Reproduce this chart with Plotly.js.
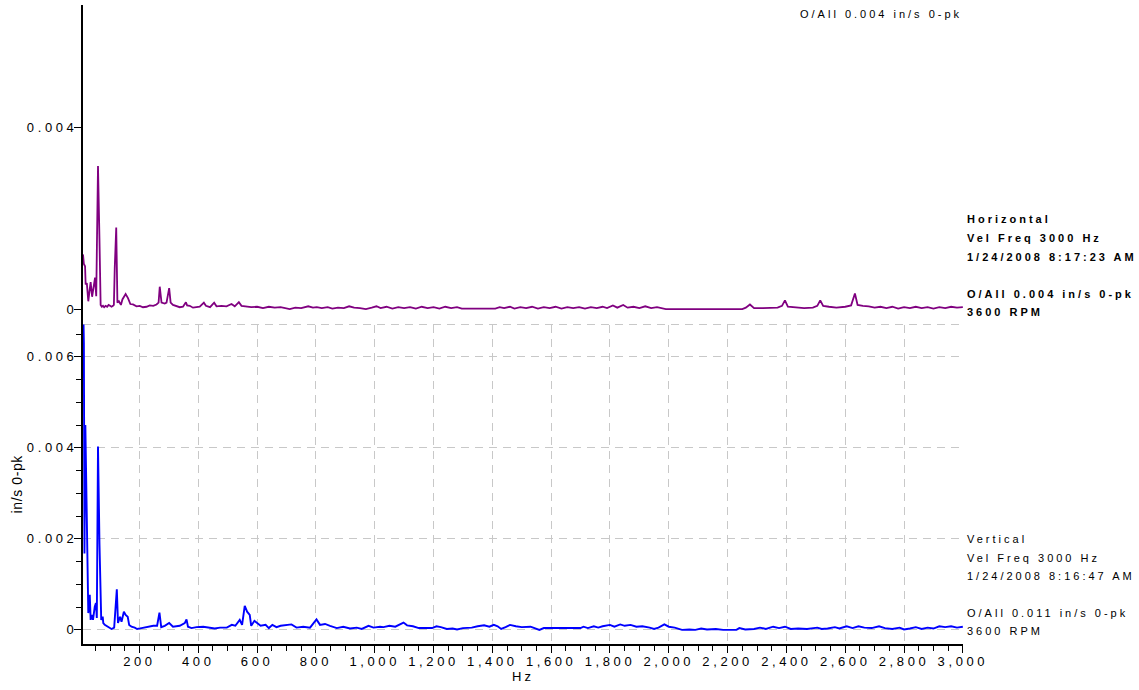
<!DOCTYPE html>
<html>
<head>
<meta charset="utf-8">
<script src="https://cdn.plot.ly/plotly-3.0.1.min.js"></script>
<style>
  html, body { margin: 0; padding: 0; background: #fff; }
  #chart { width: 1139px; height: 690px; }
  .xtick text, .ytick text, .y2tick text { letter-spacing: 3.6px; }
  .g-xtitle text { letter-spacing: 3px; }
  .g-ytitle text { letter-spacing: 0.6px; }
  .annotation-text { letter-spacing: 3px; }
</style>
</head>
<body>
<div id="chart"></div>
<script>
// ---- Horizontal (top panel) spectrum: frequency (Hz) and amplitude (in/s 0-pk)
const horizFreq = [8, 11, 15, 17, 21, 26, 30, 34, 39, 44, 49, 53, 59, 64, 68,
  72, 76, 80, 85, 90, 95, 100, 105, 110, 113, 116, 121, 125, 130, 137, 142, 153, 161, 169, 178, 190,
  201, 212, 224, 235, 247, 258, 265, 269, 275, 286, 292, 301, 306, 314, 326, 337, 348, 358, 362, 371,
  382, 394, 405, 419, 426, 440, 454, 462, 479, 496, 513, 524, 538, 547, 564, 580, 600, 620, 640, 660,
  680, 700, 711, 730, 750, 774, 790, 803, 820, 840, 856, 875, 895, 913, 930, 950, 970, 990, 1006,
  1020, 1040, 1060, 1080, 1100, 1120, 1140, 1160, 1180, 1200, 1220, 1240, 1260, 1280, 1296, 1410,
  1425, 1440, 1460, 1475, 1495, 1515, 1535, 1555, 1575, 1595, 1615, 1635, 1655, 1675, 1695, 1715,
  1735, 1755, 1775, 1790, 1810, 1825, 1845, 1860, 1880, 1900, 1920, 1940, 1960, 1990, 2250, 2262,
  2276, 2290, 2320, 2345, 2370, 2385, 2395, 2405, 2430, 2460, 2490, 2505, 2515, 2525, 2545, 2570,
  2600, 2620, 2633, 2642, 2660, 2680, 2700, 2720, 2740, 2760, 2780, 2800, 2820, 2840, 2860, 2880,
  2900, 2920, 2940, 2960, 2980, 3000];
const horizAmp = [0.00121, 0.00100, 0.00095, 0.00055, 0.00058, 0.00018, 0.00040, 0.00060, 0.00028, 0.00045, 0.00070, 0.00029, 0.00315, 0.00154, 0.00010,
  0.00006, 0.00008, 0.00005, 0.00008, 0.00006, 0.00010, 0.00008, 0.00006, 0.00008, 0.00010, 0.00092, 0.00180, 0.00015, 0.00018, 0.00010, 0.00022, 0.00034, 0.00025, 0.00012, 0.00011, 0.00007,
  0.00008, 0.00005, 0.00006, 0.00009, 0.00008, 0.00011, 0.00015, 0.00050, 0.00015, 0.00013, 0.00015, 0.00047, 0.00015, 0.00010, 0.00008, 0.00005, 0.00006, 0.00016, 0.00009, 0.00008,
  0.00004, 0.00005, 0.00006, 0.00015, 0.00008, 0.00005, 0.00015, 0.00007, 0.00008, 0.00007, 0.00012, 0.00007, 0.00016, 0.00008, 0.00006, 0.00005, 0.00006, 0.00003, 0.00006, 0.00004,
  0.00005, 0.00003, 0.00001, 0.00004, 0.00003, 0.00007, 0.00004, 0.00005, 0.00003, 0.00005, 0.00002, 0.00004, 0.00003, 0.00007, 0.00004, 0.00003, 0.00001, 0.00004, 0.00007,
  0.00003, 0.00006, 0.00002, 0.00005, 0.00003, 0.00005, 0.00002, 0.00006, 0.00003, 0.00005, 0.00002, 0.00006, 0.00003, 0.00005, 0.00002, 0.00002,
  0.00005, 0.00003, 0.00006, 0.00002, 0.00005, 0.00003, 0.00006, 0.00002, 0.00005, 0.00003, 0.00006, 0.00002, 0.00005, 0.00003, 0.00005, 0.00002,
  0.00005, 0.00003, 0.00006, 0.00003, 0.00009, 0.00004, 0.00010, 0.00004, 0.00006, 0.00003, 0.00007, 0.00003, 0.00005, 0.00001, 0.00001, 0.00004,
  0.00011, 0.00003, 0.00003, 0.00004, 0.00004, 0.00008, 0.00020, 0.00006, 0.00004, 0.00003, 0.00004, 0.00008, 0.00020, 0.00008, 0.00006, 0.00004,
  0.00006, 0.00009, 0.00035, 0.00010, 0.00008, 0.00007, 0.00004, 0.00006, 0.00003, 0.00006, 0.00002, 0.00005, 0.00003, 0.00006, 0.00003, 0.00005,
  0.00002, 0.00005, 0.00003, 0.00006, 0.00004, 0.00005];

// ---- Vertical (bottom panel) spectrum
const vertFreq = [8, 11, 13, 16, 20, 26, 31, 34, 38, 42, 48, 52, 55, 59, 64, 70, 75, 77, 82, 94, 105, 114,
  119, 123, 127, 134, 139, 147, 153, 160, 165, 173, 184, 192, 207, 226, 247, 260, 268, 274, 286, 301, 314,
  337, 354, 360, 365, 377, 394, 417, 439, 456, 474, 497, 514, 526, 541, 549, 558, 566, 575, 580, 591, 600,
  612, 629, 640, 652, 666, 680, 717, 734, 757, 780, 802, 814, 831, 848, 871, 893, 916, 939, 956, 979, 996,
  1018, 1030, 1050, 1070, 1098, 1110, 1130, 1150, 1195, 1210, 1225, 1245, 1265, 1280, 1300, 1330, 1350,
  1372, 1390, 1405, 1418, 1430, 1445, 1460, 1480, 1500, 1530, 1545, 1560, 1575, 1650, 1700, 1710, 1725,
  1745, 1760, 1775, 1800, 1815, 1835, 1850, 1870, 1890, 1910, 1935, 1950, 1965, 1985, 2000, 2020, 2045,
  2070, 2090, 2110, 2130, 2160, 2185, 2230, 2240, 2260, 2290, 2310, 2330, 2355, 2375, 2395, 2415, 2440,
  2470, 2505, 2520, 2540, 2565, 2580, 2605, 2625, 2645, 2665, 2690, 2715, 2735, 2760, 2785, 2800, 2820,
  2840, 2860, 2880, 2900, 2920, 2940, 2960, 2980, 3000];
const vertAmp = [0.00740, 0.00630, 0.00168, 0.00450, 0.00285, 0.00037, 0.00077, 0.00022, 0.00033, 0.00022, 0.00051, 0.00059, 0.00026, 0.00403, 0.00190, 0.00022, 0.00029, 0.00015, 0.00011, 0.00007, 0.00002, 0.00005,
  0.00044, 0.00089, 0.00015, 0.00029, 0.00018, 0.00040, 0.00033, 0.00029, 0.00011, 0.00007, 0.00005, 0.00002, 0.00004, 0.00007, 0.00009, 0.00009, 0.00038, 0.00006, 0.00009, 0.00015, 0.00007,
  0.00009, 0.00015, 0.00023, 0.00007, 0.00004, 0.00006, 0.00007, 0.00005, 0.00003, 0.00005, 0.00005, 0.00011, 0.00009, 0.00022, 0.00011, 0.00053, 0.00040, 0.00033, 0.00009, 0.00020, 0.00015,
  0.00009, 0.00011, 0.00004, 0.00011, 0.00006, 0.00009, 0.00012, 0.00005, 0.00007, 0.00005, 0.00023, 0.00011, 0.00013, 0.00009, 0.00004, 0.00007, 0.00003, 0.00005, 0.00002, 0.00009, 0.00005,
  0.00007, 0.00006, 0.00009, 0.00007, 0.00016, 0.00010, 0.00008, 0.00004, 0.00004, 0.00008, 0.00006, 0.00002, 0.00003, 0.00001, 0.00004, 0.00005, 0.00008,
  0.00010, 0.00007, 0.00011, 0.00008, 0.00002, 0.00006, 0.00011, 0.00008, 0.00006, 0.00007, 0.00004, 0.00000, 0.00004, 0.00004, 0.00004, 0.00007, 0.00004,
  0.00008, 0.00005, 0.00008, 0.00011, 0.00007, 0.00012, 0.00009, 0.00011, 0.00007, 0.00008, 0.00005, 0.00002, 0.00005, 0.00012, 0.00007, 0.00005, 0.00000,
  0.00001, 0.00000, 0.00003, 0.00001, 0.00002, 0.00000, 0.00000, 0.00004, 0.00001, 0.00002, 0.00005, 0.00002, 0.00007, 0.00004, 0.00007, 0.00002, 0.00003,
  0.00002, 0.00005, 0.00002, 0.00003, 0.00006, 0.00003, 0.00008, 0.00004, 0.00008, 0.00005, 0.00004, 0.00008, 0.00004, 0.00002, 0.00005, 0.00001, 0.00003,
  0.00006, 0.00002, 0.00005, 0.00003, 0.00008, 0.00006, 0.00008, 0.00005, 0.00007];

// ---- Text blocks
const topHeader = "O/All 0.004 in/s 0-pk";
const horizInfo = ["Horizontal", "Vel Freq 3000 Hz", "1/24/2008 8:17:23 AM", "O/All 0.004 in/s 0-pk", "3600 RPM"];
const vertInfo = ["Vertical", "Vel Freq 3000 Hz", "1/24/2008 8:16:47 AM", "O/All 0.011 in/s 0-pk", "3600 RPM"];
const xTickVals = [200, 400, 600, 800, 1000, 1200, 1400, 1600, 1800, 2000, 2200, 2400, 2600, 2800, 3000];
const yUnits = "in/s 0-pk";
const xUnits = "Hz";

// ---- layout geometry (pixels)
const W = 1139, H = 690;
const L = 83.3, R = 962.9, T = 5, B = 644;
const px = x => (x - L) / (R - L);
const py = y => (B - y) / (B - T);

const FONT = "Liberation Sans, Arial, sans-serif";
const gridCol = "#c8c8c8";
const dashPat = "8px,6px";

const traces = [
  { x: vertFreq, y: vertAmp, xaxis: "x", yaxis: "y", type: "scatter", mode: "lines",
    line: { color: "#0000ff", width: 1.9 }, hoverinfo: "skip", showlegend: false, cliponaxis: true },
  { x: horizFreq, y: horizAmp, xaxis: "x2", yaxis: "y2", type: "scatter", mode: "lines",
    line: { color: "#800080", width: 1.8 }, hoverinfo: "skip", showlegend: false, cliponaxis: true }
];

const annotations = [];
const infoY = [219, 238, 257, 294, 312];
const infoY2 = [539, 558, 576, 613, 631];
horizInfo.forEach((t, i) => annotations.push({
  xref: "paper", yref: "paper", x: px(965), y: py(infoY[i]), xanchor: "left", yanchor: "middle",
  text: "<b>" + t + "</b>", showarrow: false, font: { family: FONT, size: 11, color: "#000" }
}));
vertInfo.forEach((t, i) => annotations.push({
  xref: "paper", yref: "paper", x: px(965), y: py(infoY2[i]), xanchor: "left", yanchor: "middle",
  text: t, showarrow: false, font: { family: FONT, size: 11, color: "#000" }
}));
annotations.push({
  xref: "paper", yref: "paper", x: px(798), y: py(14), xanchor: "left", yanchor: "middle",
  text: topHeader, showarrow: false, font: { family: FONT, size: 11, color: "#000" }
});

const layout = {
  width: W, height: H,
  margin: { l: L, r: W - R, t: T, b: H - B, pad: 0 },
  paper_bgcolor: "#fff", plot_bgcolor: "#fff",
  font: { family: FONT, size: 13, color: "#000" },
  showlegend: false,
  xaxis: {
    anchor: "y", domain: [0, 1], range: [8, 3000.5],
    tickvals: xTickVals, tickformat: ",d",
    ticks: "outside", ticklen: 7, tickwidth: 1, tickcolor: "#000",
    showline: true, linecolor: "#000", linewidth: 2,
    showgrid: true, gridcolor: gridCol, griddash: dashPat, gridwidth: 1,
    zeroline: false, ticklabelstandoff: -3,
    tickfont: { family: FONT, size: 13, color: "#000" },
    minor: { dtick: 50, tick0: 0, ticks: "outside", ticklen: 5, tickcolor: "#000", showgrid: false },
    title: { text: xUnits, font: { family: FONT, size: 13, color: "#000" }, standoff: 3 }
  },
  yaxis: {
    anchor: "x", domain: [0, 0.5], range: [-0.00031, 0.00671],
    tick0: 0, dtick: 0.002,
    ticks: "outside", ticklen: 7, tickcolor: "#000",
    showline: true, linecolor: "#000", linewidth: 2,
    showgrid: true, gridcolor: gridCol, griddash: dashPat, gridwidth: 1,
    zeroline: false, ticklabelstandoff: -6,
    tickfont: { family: FONT, size: 13, color: "#000" },
    minor: { dtick: 0.0005, tick0: 0, ticks: "outside", ticklen: 5, tickcolor: "#000", showgrid: false },
    title: { text: yUnits, font: { family: FONT, size: 14, color: "#000" }, standoff: 1 }
  },
  xaxis2: {
    anchor: "y2", domain: [0, 1], range: [8, 3000.5], matches: "x",
    showticklabels: false, ticks: "", showline: false, showgrid: false, zeroline: false
  },
  yaxis2: {
    anchor: "x2", domain: [0.5, 1], range: [-0.00033, 0.00669],
    tickvals: [0, 0.004],
    ticks: "outside", ticklen: 7, tickcolor: "#000",
    showline: true, linecolor: "#000", linewidth: 2,
    showgrid: false, zeroline: false, ticklabelstandoff: -6,
    tickfont: { family: FONT, size: 13, color: "#000" }
  },
  shapes: [
    { type: "line", xref: "paper", yref: "paper", x0: 0, x1: 1, y0: 0.5, y1: 0.5,
      line: { color: gridCol, width: 1, dash: dashPat }, layer: "below" }
  ],
  annotations: annotations
};

Plotly.newPlot("chart", traces, layout, { staticPlot: true, displayModeBar: false });
</script>
</body>
</html>
